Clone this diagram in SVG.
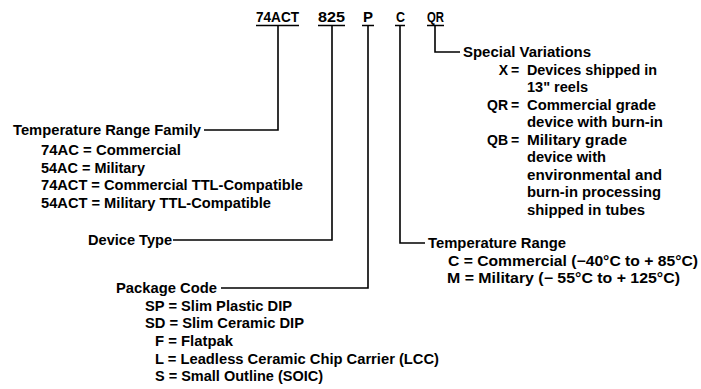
<svg xmlns="http://www.w3.org/2000/svg" width="701" height="389" viewBox="0 0 701 389">
<style>
text{font-family:"Liberation Sans",Arial,sans-serif;font-weight:bold;font-size:14px;fill:#000}
.eq{text-anchor:middle}
.lb{text-anchor:end}
.ln{stroke:#000;stroke-width:1.6;fill:none}
</style>
<rect width="701" height="389" fill="#fff"/>
<g id="connectors">
<path class="ln" d="M256 25.5H299M278 25.5V130H204"/>
<path class="ln" d="M318 25.5H345M332 25.5V240H173"/>
<path class="ln" d="M362 25.5H374M368 25.5V288H221"/>
<path class="ln" d="M395 25.5H405M400 25.5V243H425"/>
<path class="ln" d="M427 25.5H444M435 25.5V52H460"/>
</g>
<g id="code">
<text x="256" y="22" textLength="43" lengthAdjust="spacingAndGlyphs">74ACT</text>
<text x="318" y="22" textLength="27" lengthAdjust="spacingAndGlyphs">825</text>
<text x="363" y="22" textLength="10" lengthAdjust="spacingAndGlyphs">P</text>
<text x="396" y="22" textLength="9" lengthAdjust="spacingAndGlyphs">C</text>
<text x="427" y="22" textLength="17" lengthAdjust="spacingAndGlyphs">QR</text>
</g>
<g id="family">
<text x="13" y="135" textLength="188" lengthAdjust="spacingAndGlyphs">Temperature Range Family</text>
<text x="41" y="155" textLength="140" lengthAdjust="spacingAndGlyphs">74AC = Commercial</text>
<text x="41" y="172.5" textLength="104" lengthAdjust="spacingAndGlyphs">54AC = Military</text>
<text x="41" y="190" textLength="262" lengthAdjust="spacingAndGlyphs">74ACT = Commercial TTL-Compatible</text>
<text x="41" y="207.5" textLength="230" lengthAdjust="spacingAndGlyphs">54ACT = Military TTL-Compatible</text>
</g>
<g id="device-type">
<text x="88" y="245" textLength="84" lengthAdjust="spacingAndGlyphs">Device Type</text>
</g>
<g id="package">
<text x="116" y="293" textLength="101" lengthAdjust="spacingAndGlyphs">Package Code</text>
<text x="145" y="311" textLength="147" lengthAdjust="spacingAndGlyphs">SP = Slim Plastic DIP</text>
<text x="145" y="328" textLength="159" lengthAdjust="spacingAndGlyphs">SD = Slim Ceramic DIP</text>
<text x="155" y="346" textLength="78" lengthAdjust="spacingAndGlyphs">F = Flatpak</text>
<text x="155" y="363.5" textLength="284" lengthAdjust="spacingAndGlyphs">L = Leadless Ceramic Chip Carrier (LCC)</text>
<text x="155" y="381" textLength="168" lengthAdjust="spacingAndGlyphs">S = Small Outline (SOIC)</text>
</g>
<g id="temp-range">
<text x="428" y="248" textLength="138" lengthAdjust="spacingAndGlyphs">Temperature Range</text>
<text x="448" y="265.5" textLength="250" lengthAdjust="spacingAndGlyphs">C = Commercial (−40°C to + 85°C)</text>
<text x="447" y="283" textLength="233" lengthAdjust="spacingAndGlyphs">M = Military (− 55°C to + 125°C)</text>
</g>
<g id="special">
<text x="463" y="57" textLength="128" lengthAdjust="spacingAndGlyphs">Special Variations</text>
<text class="lb" x="508" y="74.5">X</text>
<text class="eq" x="515" y="74.5">=</text>
<text x="527" y="74.5" textLength="130" lengthAdjust="spacingAndGlyphs">Devices shipped in</text>
<text x="527" y="92" textLength="61" lengthAdjust="spacingAndGlyphs">13" reels</text>
<text class="lb" x="508" y="109.5">QR</text>
<text class="eq" x="515" y="109.5">=</text>
<text x="527" y="109.5" textLength="129" lengthAdjust="spacingAndGlyphs">Commercial grade</text>
<text x="527" y="127" textLength="136" lengthAdjust="spacingAndGlyphs">device with burn-in</text>
<text class="lb" x="508" y="144.5">QB</text>
<text class="eq" x="515" y="144.5">=</text>
<text x="527" y="144.5" textLength="100" lengthAdjust="spacingAndGlyphs">Military grade</text>
<text x="527" y="162" textLength="79" lengthAdjust="spacingAndGlyphs">device with</text>
<text x="527" y="179.5" textLength="135" lengthAdjust="spacingAndGlyphs">environmental and</text>
<text x="527" y="197" textLength="134" lengthAdjust="spacingAndGlyphs">burn-in processing</text>
<text x="527" y="214.5" textLength="118" lengthAdjust="spacingAndGlyphs">shipped in tubes</text>
</g>
</svg>
